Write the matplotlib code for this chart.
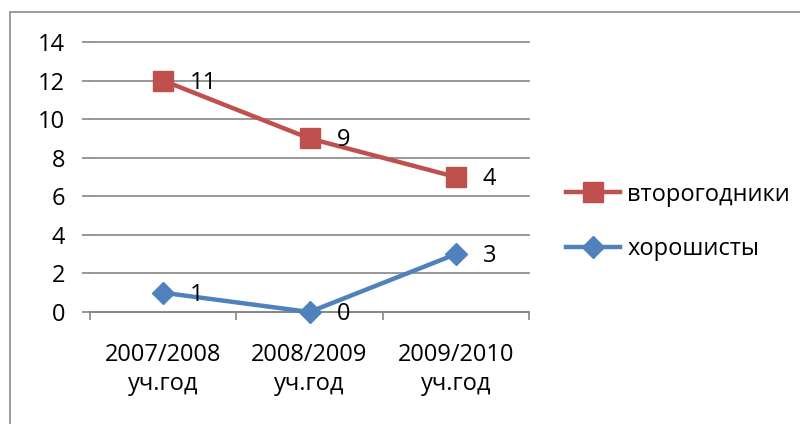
import matplotlib.pyplot as plt
from matplotlib.patches import Rectangle

plt.rcParams['font.family'] = ['Open Sans', 'DejaVu Sans']

# data
categories = ['2007/2008\nуч.год', '2008/2009\nуч.год', '2009/2010\nуч.год']
repeaters = [12, 9, 7]
repeaters_labels = ['11', '9', '4']
good = [1, 0, 3]
good_labels = ['1', '0', '3']
y_ticks = [0, 2, 4, 6, 8, 10, 12, 14]

RED = '#C0504D'
BLUE = '#4F81BD'
GRID = '#868686'
FS = 17

fig = plt.figure(figsize=(8, 4.24), dpi=100)
fig.patches.append(Rectangle((10 / 800, -0.1), 1.0, 1.1 - 12 / 424, transform=fig.transFigure,
                             fill=False, edgecolor='#8c8c8c', linewidth=1.2))

ax = fig.add_axes([90 / 800, 1 - 312 / 424, (529 - 90) / 800, (312 - 42) / 424])
x = [i + 0.5 for i in range(len(categories))]

ax.plot(x, repeaters, color=RED, linewidth=3.2, marker='s', markersize=14,
        label='второгодники', zorder=3, clip_on=False)
ax.plot(x, good, color=BLUE, linewidth=3.2, marker='D', markersize=11,
        label='хорошисты', zorder=3, clip_on=False)

for xi, yi, t in zip(x, repeaters, repeaters_labels):
    ax.annotate(t, (xi, yi), xytext=(27, -2), textcoords='offset pixels',
                ha='left', va='center', fontsize=FS)
for xi, yi, t in zip(x, good, good_labels):
    ax.annotate(t, (xi, yi), xytext=(27, -2), textcoords='offset pixels',
                ha='left', va='center', fontsize=FS)

ax.set_xlim(0, 3)
ax.set_ylim(0, 14)
ax.set_yticks(y_ticks)
ax.set_xticks(x)
ax.set_xticklabels(categories, fontsize=FS, linespacing=1.3)
ax.set_xticks([0, 1, 2, 3], minor=True)
ax.tick_params(axis='x', which='major', length=0, pad=22)
ax.tick_params(axis='x', which='minor', length=6, color=GRID, width=1.2, direction='out')
ax.tick_params(axis='y', length=6, color=GRID, width=1.2, pad=12, labelsize=FS)
ax.grid(axis='y', color=GRID, linewidth=1.2)
for gl in ax.get_ygridlines():
    gl.set_clip_on(False)
ax.set_axisbelow(True)
for s in ['top', 'right', 'left']:
    ax.spines[s].set_visible(False)
ax.spines['bottom'].set_color(GRID)
ax.spines['bottom'].set_linewidth(1.2)

fig.legend(loc='center left', bbox_to_anchor=(566 / 800, 1 - 222 / 424), frameon=False,
           fontsize=FS, handlelength=2.3, handletextpad=0.3, labelspacing=1.3,
           borderpad=0, borderaxespad=0)

fig.savefig('out.png', dpi=100)
